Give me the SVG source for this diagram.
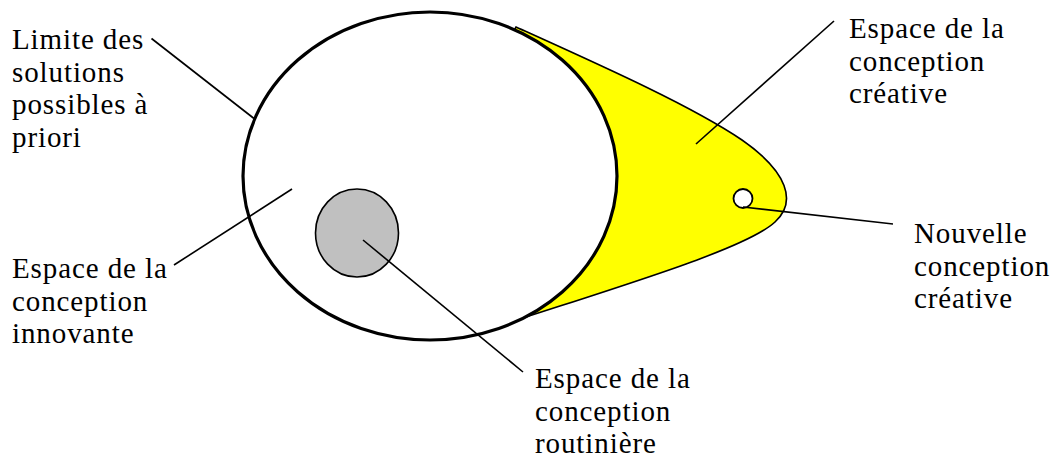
<svg xmlns="http://www.w3.org/2000/svg" width="1054" height="461" viewBox="0 0 1054 461">
<style>
text{font-family:"Liberation Serif","DejaVu Serif",serif;font-size:29px;fill:#000;letter-spacing:0.9px}
.lead{stroke:#000;stroke-width:1.6;fill:none}
</style>
<rect width="1054" height="461" fill="#fff"/>
<g id="creative-space">
<path d="M516,27 C 600,65 690,105 742,140 C 788,172 797,202 775,222 C 748,247 640,280 526,317 L 430,180 Z" fill="#ffff00" stroke="#000" stroke-width="1.6"/>
</g>
<g id="solutions-limit">
<ellipse cx="430" cy="176" rx="187" ry="164" fill="#fff" stroke="#000" stroke-width="3.2"/>
</g>
<g id="routine-space">
<ellipse cx="357" cy="233" rx="41.5" ry="44" fill="#c0c0c0" stroke="#000" stroke-width="1.6"/>
</g>
<g id="new-design">
<circle cx="743" cy="198.5" r="9.5" fill="#fff" stroke="#000" stroke-width="1.8"/>
</g>
<g id="connectors">
<line class="lead" x1="151.5" y1="38.5" x2="254" y2="118.5"/>
<line class="lead" x1="834" y1="21" x2="696" y2="144"/>
<line class="lead" x1="743" y1="207" x2="893" y2="224"/>
<line class="lead" x1="174" y1="265" x2="292" y2="189"/>
<line class="lead" x1="363" y1="240" x2="523" y2="372"/>
</g>
<g id="label-limit">
<text x="12" y="49">Limite des</text>
<text x="12" y="81.5">solutions</text>
<text x="12" y="114">possibles à</text>
<text x="12" y="146.5">priori</text>
</g>
<g id="label-creative">
<text x="849" y="38">Espace de la</text>
<text x="849" y="70.5">conception</text>
<text x="849" y="103">créative</text>
</g>
<g id="label-new">
<text x="914" y="243">Nouvelle</text>
<text x="914" y="275.5">conception</text>
<text x="914" y="308">créative</text>
</g>
<g id="label-innovative">
<text x="12" y="278">Espace de la</text>
<text x="12" y="310.5">conception</text>
<text x="12" y="343">innovante</text>
</g>
<g id="label-routine">
<text x="535" y="388">Espace de la</text>
<text x="535" y="420.5">conception</text>
<text x="535" y="453">routinière</text>
</g>
</svg>
